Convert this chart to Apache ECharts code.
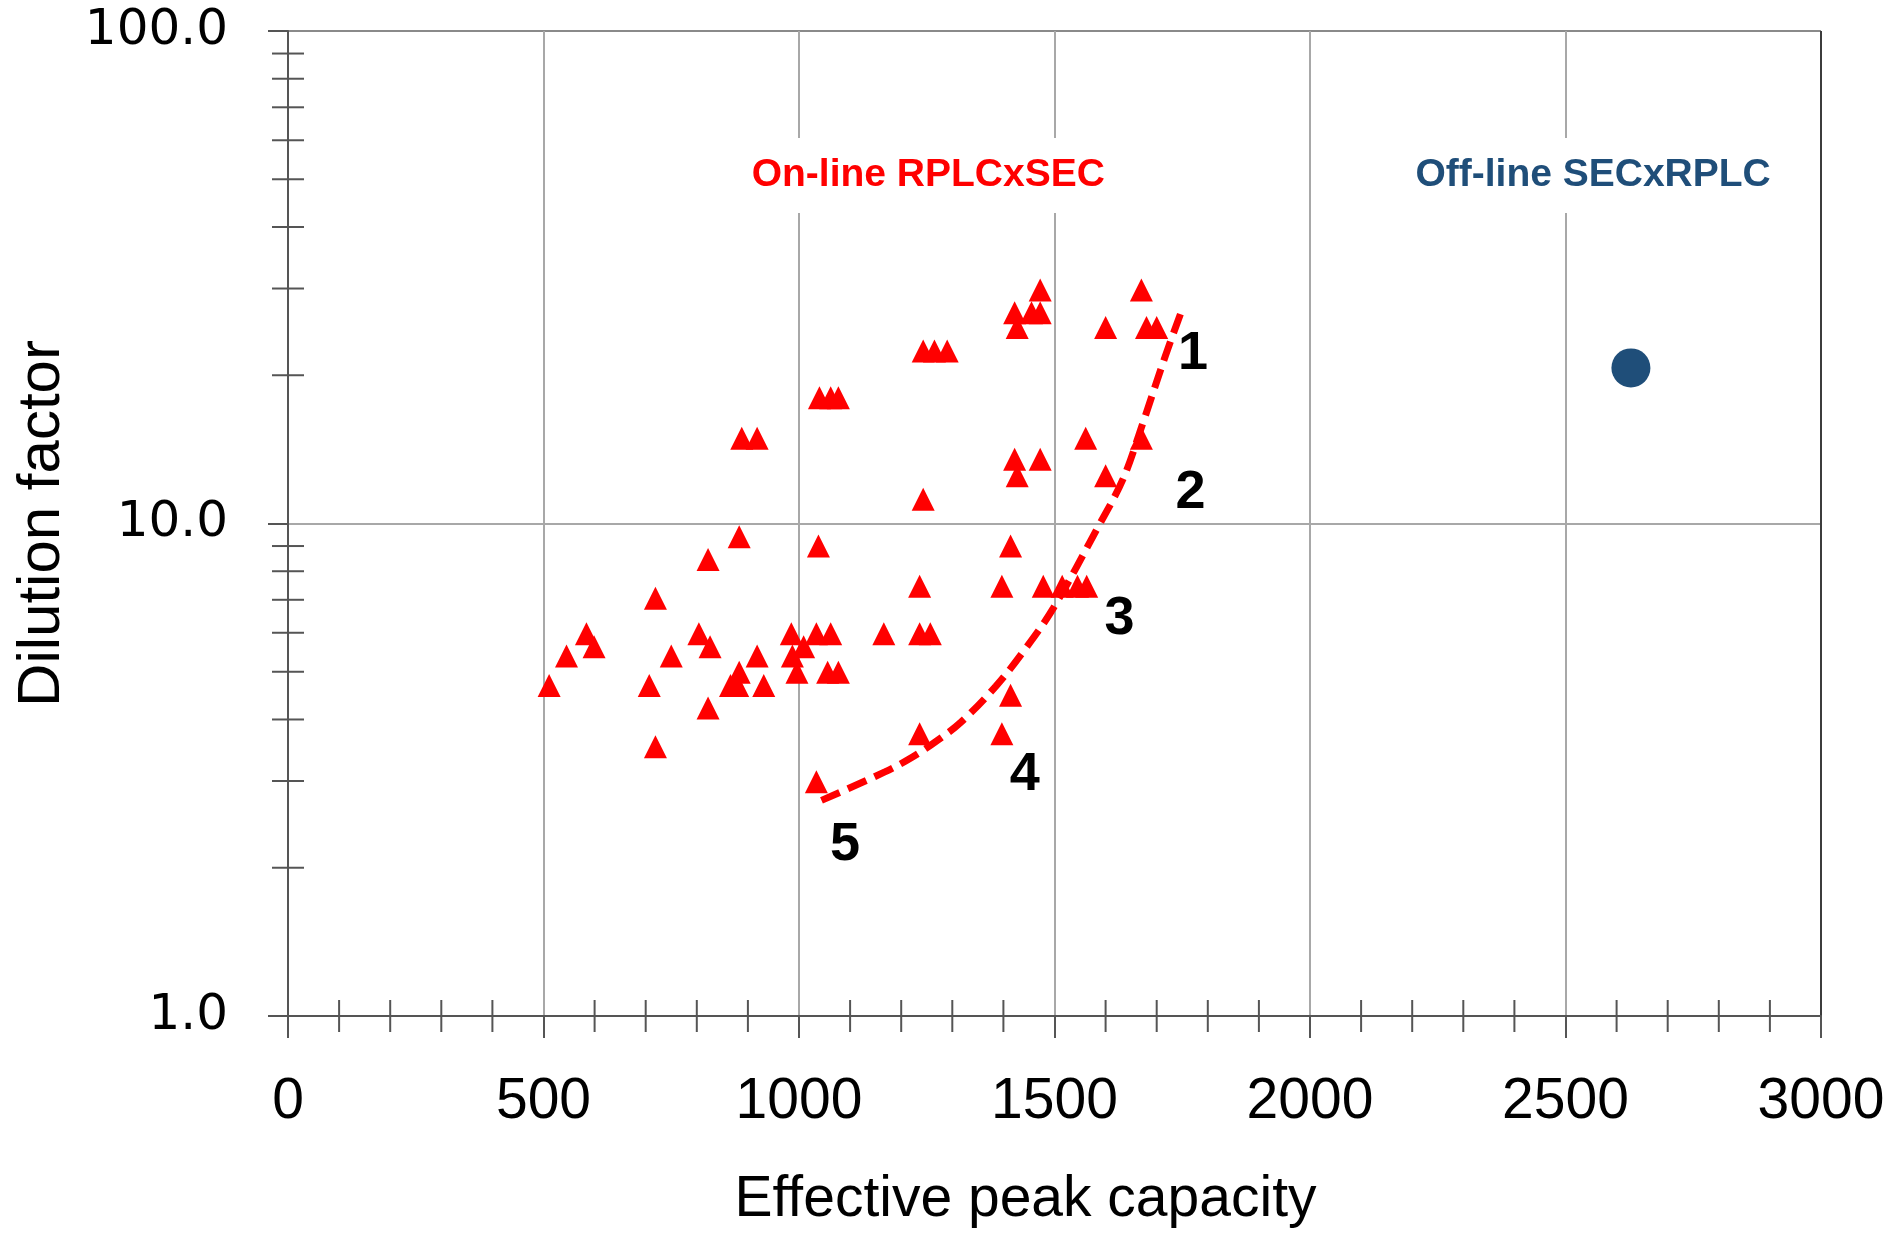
<!DOCTYPE html>
<html>
<head>
<meta charset="utf-8">
<script src="https://cdn.jsdelivr.net/npm/echarts@6/dist/echarts.min.js"></script>
<style>
html,body{margin:0;padding:0;background:#fff;}
#chart{width:1895px;height:1239px;}
</style>
</head>
<body>
<div id="chart"></div>
<script>
// ---- data ----
const onlineX = [1472,1670,1422,1455,1472,1427,1600,1680,1700,1243,1265,1290,1040,1062,1077,888,918,1561,1670,1422,1472,1427,1600,1243,883,1038,1414,822,719,1236,1397,1478,1515,1545,1563,584,599,545,511,707,719,750,804,826,822,918,866,880,883,931,985,987,996,1009,1034,1062,1056,1077,1166,1236,1257,1414,1236,1397,1034];
const onlineY = [29.8,29.8,26.8,26.8,26.8,25.0,25.0,25.0,25.0,22.4,22.4,22.4,18.0,18.0,18.0,14.9,14.9,14.9,14.9,13.5,13.5,12.5,12.5,11.2,9.4,9.0,9.0,8.45,7.05,7.46,7.46,7.46,7.46,7.46,7.46,5.97,5.62,5.38,4.69,4.69,3.52,5.38,5.97,5.62,4.22,5.38,4.69,4.69,4.99,4.69,5.97,5.38,4.99,5.62,5.97,5.97,4.99,4.99,5.97,5.97,5.97,4.48,3.74,3.74,2.99];
const offlineX = [2628];
const offlineY = [20.7];
const curveX = [1044,1168,1223,1273,1317,1385,1442,1498,1586,1634,1673,1717,1752];
const curveY = [2.74,3.13,3.36,3.64,3.95,4.67,5.55,6.74,9.87,12.3,16.0,21.9,27.6];
const numLabels = ["1","2","3","4","5"];
const numLabelX = [1771,1766,1627,1442,1090];
const numLabelY = [22.1,11.53,6.41,3.09,2.22];
const groupNames = ["On-line RPLCxSEC","Off-line SECxRPLC"];
const groupNameX = [1253,2554];
const groupNameY = [50.9,50.9];
const groupColors = ["#ff0000","#1f4e79"];
const xMin = 0, xMax = 3000, xInterval = 500;
const yMin = 1, yMax = 100;
const yMinorTicks = [2,3,4,5,6,7,8,9,20,30,40,50,60,70,80,90];
const xMinorTicks = [];
for (let v = 100; v < 3000; v += 100) { if (v % 500 !== 0) xMinorTicks.push(v); }
const xTitle = "Effective peak capacity";
const yTitle = "Dilution factor";

// ---- build options ----
const zip = (a, b) => a.map((v, i) => [v, b[i]]);
const axisColor = '#555555';
const font = "'Liberation Sans', Arial, sans-serif";

const minorData = yMinorTicks.map(v => [xMin, v, 0]).concat(xMinorTicks.map(v => [v, yMin, 1]));

const chart = echarts.init(document.getElementById('chart'), null, {renderer: 'canvas'});
chart.setOption({
  animation: false,
  backgroundColor: '#ffffff',
  grid: {left: 288, right: 74, top: 31, bottom: 223, containLabel: false},
  xAxis: {
    type: 'value', min: xMin, max: xMax, interval: xInterval,
    name: xTitle, nameLocation: 'middle', nameGap: 156,
    nameTextStyle: {fontFamily: font, fontSize: 57, color: '#000', padding: [0, 58, 0, 0]},
    axisLine: {show: true, lineStyle: {color: axisColor, width: 2}},
    axisTick: {show: true, length: 22, lineStyle: {color: axisColor, width: 2}},
    axisLabel: {fontFamily: font, fontSize: 57, color: '#000', margin: 58, formatter: v => String(v)},
    splitLine: {show: true, lineStyle: {color: ['#a8a8a8','#a8a8a8','#a8a8a8','#a8a8a8','#a8a8a8','#a8a8a8','#3c3c3c'], width: 2}}
  },
  yAxis: {
    type: 'log', logBase: 10, min: yMin, max: yMax,
    name: yTitle, nameLocation: 'middle', nameGap: 216,
    nameTextStyle: {fontFamily: font, fontSize: 60, color: '#000'},
    axisLine: {show: true, lineStyle: {color: axisColor, width: 2}},
    axisTick: {show: true, length: 20, lineStyle: {color: axisColor, width: 2}},
    axisLabel: {fontFamily: "'DejaVu Sans', sans-serif", fontSize: 50, color: '#000', margin: 60,
      formatter: v => Number(v).toFixed(1)},
    splitLine: {show: true, lineStyle: {color: ['#a8a8a8','#a8a8a8','#8a8a8a'], width: 2}}
  },
  series: [
    {
      type: 'custom', name: 'minorTicks', clip: false, silent: true, z: 3,
      data: minorData,
      renderItem: function (params, api) {
        const p = api.coord([api.value(0), api.value(1)]);
        const o = api.value(2);
        const shape = o ? {x1: p[0], y1: p[1] - 16, x2: p[0], y2: p[1] + 16}
                        : {x1: p[0] - 16, y1: p[1], x2: p[0] + 16, y2: p[1]};
        return {type: 'line', shape: shape, style: {stroke: axisColor, lineWidth: 2}};
      }
    },
    {
      type: 'scatter', name: 'groupNames', symbolSize: 0, silent: true, z: 4,
      itemStyle: {opacity: 1},
      data: groupNames.map((n, i) => ({name: n, value: [groupNameX[i], groupNameY[i]],
        label: {color: groupColors[i]}})),
      label: {show: true, position: 'inside', formatter: '{b}', fontFamily: font, fontWeight: 'bold',
        fontSize: 39, backgroundColor: '#ffffff', padding: [18, 8, 18, 8], opacity: 1}
    },
    {
      type: 'line', name: 'trend', smooth: 0.35, showSymbol: false, symbol: 'none', z: 5,
      data: zip(curveX, curveY),
      lineStyle: {color: '#ff0000', width: 7, type: [20, 9], cap: 'butt', opacity: 1}
    },
    {
      type: 'scatter', name: 'On-line RPLCxSEC', symbol: 'triangle', symbolSize: 23, z: 6,
      itemStyle: {color: '#ff0000', opacity: 1},
      data: zip(onlineX, onlineY)
    },
    {
      type: 'scatter', name: 'Off-line SECxRPLC', symbol: 'circle', symbolSize: 39, z: 6,
      itemStyle: {color: '#1f4e79', opacity: 1},
      data: zip(offlineX, offlineY)
    },
    {
      type: 'scatter', name: 'numbers', symbolSize: 0, silent: true, z: 7,
      itemStyle: {opacity: 1},
      data: numLabels.map((n, i) => ({name: n, value: [numLabelX[i], numLabelY[i]]})),
      label: {show: true, position: 'inside', formatter: '{b}', fontFamily: font, fontWeight: 'bold',
        fontSize: 54, color: '#000', opacity: 1}
    }
  ]
});
</script>
</body>
</html>
